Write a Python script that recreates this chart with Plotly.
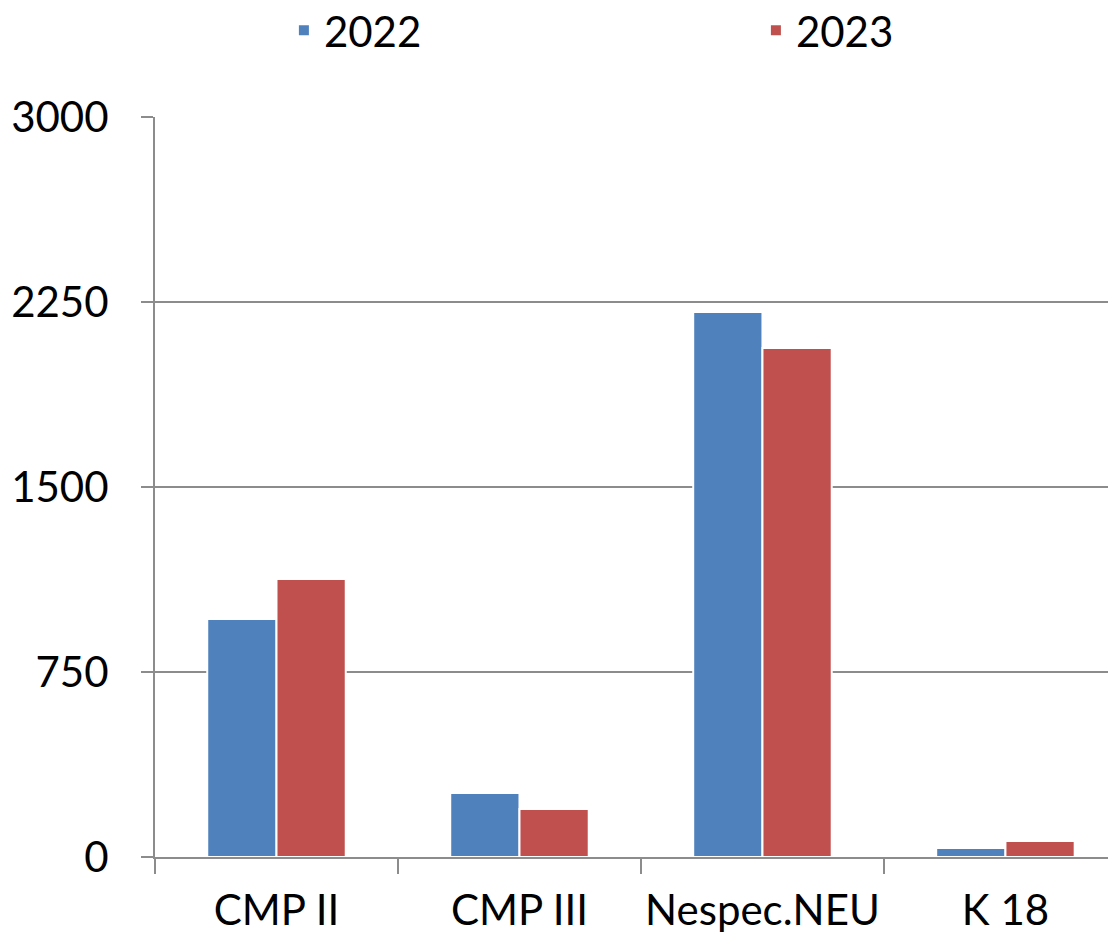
import plotly.graph_objects as go

categories = ["CMP II", "CMP III", "Nespec.NEU", "K 18"]
values_2022 = [965, 259, 2209, 36]
values_2023 = [1127, 195, 2064, 65]
y_ticks = [0, 750, 1500, 2250, 3000]

blue = "#4F81BD"
red = "#C0504D"
grid = "#8C8C8C"
font_family = "Lato, Open Sans, sans-serif"

fig = go.Figure()
fig.add_trace(go.Bar(name="2022", x=categories, y=values_2022, legend="legend",
                     marker=dict(color=blue, line=dict(color="white", width=2))))
fig.add_trace(go.Bar(name="2023", x=categories, y=values_2023, legend="legend2",
                     marker=dict(color=red, line=dict(color="white", width=2))))

leg_common = dict(orientation="h", xref="container", yref="container",
                  yanchor="middle", xanchor="left", font=dict(size=42),
                  bgcolor="rgba(0,0,0,0)", visible=True)

fig.update_layout(
    width=1108, height=934,
    margin=dict(l=147, r=0, t=109, b=85, pad=0, autoexpand=False),
    paper_bgcolor="white", plot_bgcolor="white",
    showlegend=True,
    barmode="group", bargap=0.43, bargroupgap=0.0,
    font=dict(family=font_family, size=42, color="black"),
    legend=dict(x=0.249, y=0.976, **leg_common),
    legend2=dict(x=0.675, y=0.976, **leg_common),
    xaxis=dict(range=[-0.5, 3.455], showgrid=False, showline=True, automargin=False,
               linecolor=grid, linewidth=2, ticks="outside", tickson="boundaries",
               ticklen=15, tickwidth=2, tickcolor=grid, tickangle=0,
               ticklabelstandoff=16, tickfont=dict(size=42)),
    yaxis=dict(range=[0, 3000], tickvals=y_ticks, showgrid=True, gridcolor=grid,
               gridwidth=2, showline=True, linecolor=grid, linewidth=2, automargin=False,
               ticks="outside", ticklen=12, tickwidth=2, tickcolor=grid,
               zeroline=False, ticklabelstandoff=24, tickfont=dict(size=42)),
)

fig.write_html("out.html")
